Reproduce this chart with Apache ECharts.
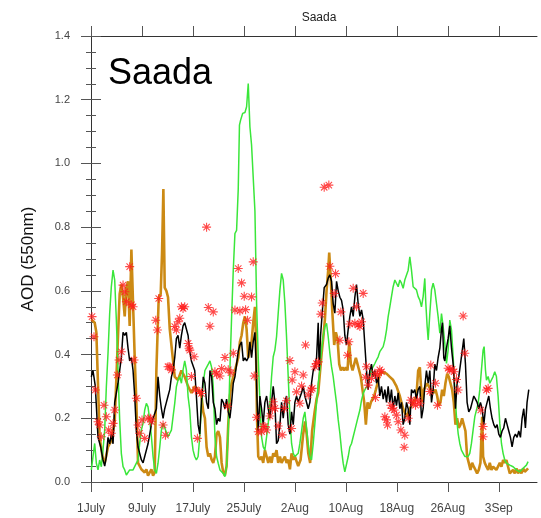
<!DOCTYPE html>
<html>
<head>
<meta charset="utf-8">
<script src="https://cdn.jsdelivr.net/npm/echarts@6/dist/echarts.min.js"></script>
<style>
html, body { margin: 0; padding: 0; background: #fff; }
#main { width: 541px; height: 518px; }
</style>
</head>
<body>
<div id="main"></div>
<script>
// days since 1 July
var dateTicks = [0, 8, 16, 24, 32, 40, 48, 56, 64];
var dateLabels = ['1July', '9July', '17July', '25July', '2Aug', '10Aug', '18Aug', '26Aug', '3Sep'];

var blackLine = [
  [0.05,0.33],[0.31,0.35],[0.68,0.30],[1.1,0.14],[1.52,0.11],[1.88,0.07],[2.15,0.05],[2.41,0.08],[2.67,0.14],[2.93,0.12],
  [3.19,0.15],[3.46,0.12],[3.72,0.25],[4.24,0.31],[4.5,0.35],[4.76,0.39],[5.03,0.47],[5.29,0.46],[5.55,0.47],[5.81,0.42],
  [6.07,0.38],[6.34,0.39],[6.6,0.35],[6.86,0.27],[7.12,0.16],[7.38,0.11],[7.9,0.07],[8.17,0.06],[8.43,0.08],[8.95,0.12],
  [9.48,0.18],[9.74,0.2],[10.0,0.2],[10.26,0.23],[10.52,0.33],[10.79,0.27],[11.05,0.23],[11.31,0.2],[11.57,0.23],[11.83,0.25],
  [12.09,0.27],[12.36,0.29],[12.62,0.33],[12.88,0.35],[13.14,0.39],[13.4,0.45],[13.66,0.46],[13.93,0.42],[14.19,0.46],[14.45,0.49],
  [14.71,0.5],[14.97,0.5],[15.24,0.46],[15.5,0.41],[15.76,0.38],[16.28,0.35],[16.54,0.27],[16.81,0.18],[17.07,0.15],[17.33,0.25],
  [17.62,0.33],[17.88,0.31],[18.14,0.25],[18.41,0.23],[18.67,0.35],[18.93,0.33],[19.19,0.25],[19.45,0.23],[19.71,0.18],[19.97,0.2],
  [20.24,0.19],[20.5,0.26],[20.76,0.25],[21.02,0.23],[21.28,0.26],[21.54,0.22],[21.8,0.2],[22.07,0.25],[22.33,0.31],[22.59,0.33],
  [22.85,0.37],[23.11,0.41],[23.37,0.43],[23.63,0.44],[23.9,0.38],[24.16,0.39],[24.42,0.38],[24.68,0.39],[24.94,0.44],[25.2,0.39],
  [25.46,0.44],[25.73,0.47],[25.88,0.39],[26.04,0.27],[26.25,0.16],[26.51,0.27],[26.77,0.23],[27.03,0.18],[27.29,0.25],[27.56,0.27],
  [27.82,0.23],[28.08,0.2],[28.34,0.25],[28.6,0.3],[28.86,0.25],[29.12,0.12],[29.38,0.13],[29.65,0.18],[29.91,0.25],[30.17,0.2],
  [30.43,0.25],[30.69,0.27],[30.95,0.18],[31.22,0.15],[31.48,0.22],[31.74,0.18],[32.0,0.25],[32.26,0.27],[32.52,0.25],[33.05,0.28],
  [33.31,0.3],[33.57,0.27],[33.83,0.27],[34.09,0.23],[34.35,0.25],[34.61,0.31],[34.88,0.35],[35.14,0.36],[35.4,0.39],[35.66,0.5],
  [35.82,0.35],[36.03,0.46],[36.29,0.53],[36.6,0.61],[36.97,0.62],[37.23,0.64],[37.49,0.65],[37.75,0.63],[38.01,0.56],[38.27,0.53],
  [38.54,0.63],[38.8,0.6],[39.06,0.58],[39.32,0.57],[39.58,0.54],[39.84,0.46],[40.1,0.43],[40.37,0.48],[40.63,0.52],[40.89,0.55],
  [41.15,0.52],[41.41,0.58],[41.67,0.62],[41.93,0.56],[42.2,0.52],[42.46,0.54],[42.72,0.51],[42.98,0.43],[43.24,0.35],[43.5,0.29],
  [43.76,0.35],[44.02,0.37],[44.29,0.33],[44.55,0.35],[44.81,0.31],[45.07,0.33],[45.33,0.27],[45.59,0.3],[45.86,0.26],[46.12,0.29],
  [46.38,0.25],[46.64,0.3],[46.9,0.25],[47.16,0.29],[47.42,0.23],[47.69,0.27],[47.95,0.24],[48.21,0.28],[48.47,0.23],[48.73,0.25],
  [48.99,0.18],[49.25,0.2],[49.52,0.25],[49.78,0.23],[50.04,0.18],[50.3,0.29],[50.56,0.28],[50.82,0.29],[51.08,0.26],[51.35,0.29],
  [51.61,0.3],[51.87,0.2],[52.13,0.23],[52.39,0.3],[52.65,0.35],[52.92,0.31],[53.18,0.35],[53.44,0.25],[53.7,0.29],[53.96,0.37],
  [54.22,0.35],[54.48,0.39],[54.75,0.42],[55.01,0.48],[55.16,0.5],[55.37,0.39],[55.53,0.38],[55.79,0.42],[56.05,0.45],[56.31,0.49],
  [56.58,0.42],[56.84,0.37],[56.99,0.32],[57.2,0.23],[57.46,0.31],[57.72,0.33],[57.99,0.37],[58.25,0.41],[58.51,0.45],[58.77,0.37],
  [59.03,0.25],[59.29,0.22],[59.56,0.23],[59.82,0.25],[60.08,0.27],[60.34,0.26],[60.6,0.25],[60.86,0.23],[61.12,0.25],[61.39,0.23],
  [61.65,0.18],[61.91,0.23],[62.17,0.25],[62.43,0.27],[62.69,0.23],[62.95,0.2],[63.22,0.18],[63.48,0.17],[63.74,0.18],[64.0,0.15],
  [64.26,0.14],[64.52,0.16],[64.78,0.17],[65.05,0.2],[65.31,0.18],[65.57,0.16],[65.83,0.14],[66.09,0.11],[66.35,0.14],[66.61,0.15],
  [66.88,0.14],[67.14,0.16],[67.4,0.14],[67.66,0.2],[67.92,0.23],[68.18,0.17],[68.44,0.25],[68.71,0.29]
];

var orangeLine = [
  [0.05,0.51],[0.58,0.5],[0.84,0.47],[1.36,0.14],[1.88,0.07],[2.15,0.06],[2.67,0.11],[3.19,0.13],[3.72,0.19],[4.24,0.46],
  [4.5,0.59],[4.76,0.62],[5.03,0.58],[5.29,0.52],[5.55,0.61],[5.81,0.63],[6.07,0.49],[6.34,0.73],[6.6,0.56],[6.86,0.39],
  [7.12,0.25],[7.38,0.06],[7.9,0.04],[8.43,0.03],[8.69,0.04],[8.95,0.02],[9.48,0.04],[9.74,0.02],[10.0,0.03],[10.26,0.35],
  [10.63,0.58],[10.94,0.59],[11.15,0.72],[11.36,0.92],[11.57,0.61],[11.83,0.6],[12.09,0.58],[12.36,0.48],[12.88,0.38],[13.14,0.33],
  [13.66,0.32],[14.19,0.35],[14.71,0.33],[15.24,0.3],[15.76,0.28],[16.28,0.3],[16.81,0.29],[17.33,0.27],[17.62,0.22],[17.88,0.2],
  [18.14,0.11],[18.41,0.08],[18.67,0.09],[18.93,0.07],[19.19,0.06],[19.45,0.08],[19.71,0.15],[19.97,0.16],[20.24,0.14],[20.5,0.06],
  [20.76,0.03],[21.02,0.02],[21.28,0.05],[21.54,0.18],[21.8,0.27],[22.07,0.31],[22.33,0.33],[22.59,0.35],[22.85,0.37],[23.11,0.39],
  [23.37,0.44],[23.63,0.46],[23.9,0.5],[24.16,0.52],[24.42,0.48],[24.68,0.39],[24.94,0.39],[25.2,0.44],[25.46,0.5],[25.73,0.55],
  [25.88,0.46],[26.04,0.21],[26.25,0.08],[26.51,0.07],[26.77,0.08],[27.03,0.06],[27.29,0.1],[27.56,0.08],[27.82,0.06],[28.08,0.08],
  [28.34,0.06],[28.6,0.09],[28.86,0.08],[29.12,0.1],[29.38,0.06],[29.65,0.08],[29.91,0.06],[30.43,0.08],[30.69,0.06],[30.95,0.07],
  [31.22,0.04],[31.48,0.09],[31.74,0.07],[32.0,0.08],[32.52,0.05],[32.9,0.07],[33.3,0.15],[33.6,0.19],[33.85,0.15],[34.1,0.09],
  [34.4,0.06],[34.7,0.16],[35.1,0.22],[35.4,0.26],[35.66,0.28],[35.92,0.34],[36.18,0.4],[36.44,0.45],[36.71,0.51],[36.97,0.6],
  [37.23,0.665],[37.39,0.72],[37.65,0.63],[37.86,0.54],[38.17,0.43],[38.43,0.47],[38.69,0.45],[38.96,0.37],[39.22,0.35],
  [39.48,0.36],[39.74,0.35],[40.0,0.36],[40.26,0.35],[40.52,0.44],[40.78,0.37],[41.05,0.35],[41.31,0.37],[41.57,0.39],[41.83,0.37],
  [42.09,0.35],[42.35,0.33],[42.61,0.29],[42.88,0.25],[43.14,0.18],[43.4,0.25],[43.66,0.23],[43.92,0.25],[44.18,0.26],[44.44,0.27],
  [44.71,0.29],[44.97,0.31],[45.33,0.34],[45.86,0.345],[46.38,0.34],[46.9,0.33],[47.42,0.32],[47.95,0.3],[48.47,0.27],[48.99,0.23],
  [49.52,0.205],[50.04,0.23],[50.56,0.25],[51.08,0.27],[51.35,0.35],[51.61,0.36],[51.76,0.31],[51.97,0.25],[52.24,0.29],[52.5,0.3],
  [52.76,0.31],[53.02,0.3],[53.28,0.29],[53.54,0.29],[53.8,0.28],[54.07,0.29],[54.33,0.27],[54.59,0.24],[54.85,0.25],[55.11,0.29],
  [55.37,0.27],[55.63,0.31],[55.9,0.34],[56.16,0.33],[56.42,0.31],[56.68,0.29],[56.94,0.25],[57.2,0.18],[57.46,0.2],[57.72,0.17],
  [57.99,0.18],[58.25,0.2],[58.51,0.2],[58.77,0.16],[59.03,0.08],[59.29,0.06],[59.56,0.038],[59.82,0.06],[60.08,0.048],[60.34,0.038],
  [60.6,0.027],[60.86,0.038],[61.12,0.06],[61.39,0.205],[61.54,0.08],[61.8,0.06],[62.07,0.048],[62.33,0.038],[62.59,0.06],[62.85,0.038],
  [63.11,0.048],[63.37,0.048],[63.63,0.038],[63.9,0.043],[64.16,0.06],[64.42,0.048],[64.68,0.069],[64.94,0.06],[65.2,0.069],[65.46,0.048],
  [65.73,0.027],[65.99,0.022],[66.25,0.038],[66.51,0.027],[66.77,0.043],[67.03,0.027],[67.29,0.038],[67.56,0.027],[67.82,0.043],[68.08,0.032],
  [68.34,0.038],[68.6,0.043]
];

var greenLine = [
  [0.05,0.038],[0.31,0.032],[0.58,0.121],[0.84,0.059],[1.1,0.038],[1.36,0.069],[1.62,0.048],[1.88,0.1],[2.15,0.163],[2.41,0.3],
  [2.67,0.404],[2.93,0.529],[3.19,0.613],[3.46,0.665],[3.72,0.634],[3.98,0.508],[4.24,0.352],[4.5,0.195],[4.76,0.09],[5.03,0.048],
  [5.29,0.038],[5.55,0.022],[6.07,0.038],[6.6,0.038],[7.12,0.059],[7.38,0.069],[7.64,0.121],[7.9,0.163],[8.17,0.184],[8.43,0.226],
  [8.69,0.247],[8.95,0.236],[9.21,0.195],[9.48,0.142],[9.74,0.08],[10.0,0.038],[10.26,0.027],[10.52,0.059],[10.79,0.11],[11.05,0.163],
  [11.31,0.184],[11.57,0.184],[12.09,0.142],[12.62,0.163],[12.88,0.205],[13.14,0.247],[13.4,0.299],[13.66,0.32],[13.93,0.331],[14.19,0.31],
  [14.45,0.352],[14.71,0.38],[14.97,0.352],[15.24,0.268],[15.5,0.226],[15.76,0.142],[16.02,0.1],[16.28,0.08],[16.54,0.069],[16.81,0.08],
  [17.07,0.142],[17.36,0.25],[17.62,0.31],[17.88,0.35],[18.14,0.36],[18.41,0.37],[18.67,0.38],[18.93,0.36],[19.19,0.3],[19.45,0.142],
  [19.71,0.08],[19.97,0.059],[20.24,0.038],[20.5,0.032],[20.76,0.027],[21.02,0.017],[21.28,0.048],[21.54,0.163],[21.8,0.352],[22.07,0.519],
  [22.33,0.665],[22.59,0.78],[22.85,0.79],[23.11,0.92],[23.3,1.12],[23.48,1.136],[23.8,1.157],[24.16,1.16],[24.42,1.178],[24.68,1.251],
  [24.94,1.115],[25.2,1.058],[25.46,1.052],[25.73,0.85],[25.99,0.56],[26.25,0.39],[26.51,0.247],[26.77,0.142],[27.03,0.11],[27.29,0.1],
  [27.56,0.142],[27.82,0.184],[28.08,0.247],[28.34,0.331],[28.6,0.393],[28.86,0.414],[29.12,0.456],[29.38,0.529],[29.65,0.603],[29.91,0.655],
  [30.17,0.634],[30.43,0.561],[30.69,0.456],[30.95,0.331],[31.22,0.205],[31.48,0.121],[31.74,0.09],[32.0,0.08],[32.26,0.08],[32.52,0.09],
  [32.78,0.121],[33.05,0.16],[33.31,0.2],[33.57,0.22],[34.09,0.12],[34.35,0.08],[34.61,0.069],[34.88,0.121],[35.14,0.184],[35.4,0.247],
  [35.66,0.31],[35.92,0.352],[36.18,0.414],[36.44,0.456],[36.71,0.488],[36.97,0.498],[37.23,0.456],[37.49,0.404],[37.75,0.362],[38.01,0.331],
  [38.27,0.289],[38.54,0.247],[38.8,0.195],[39.06,0.153],[39.32,0.1],[39.58,0.059],[39.84,0.032],[40.1,0.038],[40.37,0.08],[40.63,0.11],
  [40.89,0.121],[41.15,0.142],[41.41,0.163],[41.67,0.184],[41.93,0.205],[42.2,0.226],[42.46,0.257],[42.72,0.278],[42.98,0.289],[43.24,0.299],
  [43.5,0.31],[43.76,0.331],[44.02,0.352],[44.29,0.362],[44.55,0.372],[44.81,0.383],[45.07,0.393],[45.33,0.409],[45.59,0.414],[45.86,0.425],
  [46.12,0.446],[46.38,0.477],[46.64,0.519],[46.9,0.55],[47.16,0.582],[47.42,0.613],[47.69,0.634],[47.95,0.634],[48.21,0.613],[48.47,0.634],
  [48.73,0.624],[48.99,0.608],[49.25,0.634],[49.52,0.639],[49.78,0.665],[50.04,0.707],[50.3,0.665],[50.56,0.613],[50.82,0.61],[51.08,0.603],
  [51.35,0.582],[51.61,0.571],[51.87,0.55],[52.13,0.582],[52.39,0.639],[52.55,0.561],[52.76,0.488],[52.92,0.446],[53.18,0.529],[53.44,0.603],
  [53.7,0.624],[53.96,0.603],[54.22,0.561],[54.48,0.519],[54.75,0.467],[55.01,0.529],[55.27,0.488],[55.53,0.435],[55.79,0.372],[56.05,0.414],
  [56.31,0.508],[56.58,0.477],[56.84,0.393],[57.1,0.289],[57.36,0.205],[57.62,0.153],[57.88,0.121],[58.14,0.1],[58.41,0.09],[58.67,0.08],
  [59.19,0.08],[59.45,0.09],[59.71,0.121],[59.97,0.163],[60.24,0.205],[60.5,0.226],[60.76,0.247],[61.02,0.289],[61.28,0.352],[61.54,0.414],
  [61.7,0.425],[61.91,0.352],[62.07,0.32],[62.33,0.331],[62.59,0.31],[62.85,0.31],[63.11,0.331],[63.37,0.346],[63.63,0.331],[63.9,0.268],
  [64.16,0.184],[64.42,0.121],[64.68,0.09],[64.94,0.069],[65.2,0.059],[65.73,0.053],[66.25,0.048],[66.77,0.038],[67.29,0.032],[67.82,0.043],
  [68.34,0.053],[68.6,0.064]
];

var observed = [
  [0.16,0.519],[0.47,0.456],[0.68,0.289],[1.1,0.189],[1.36,0.179],[1.62,0.142],[2.04,0.241],[2.41,0.205],[2.77,0.163],[3.19,0.153],
  [3.46,0.184],[3.72,0.226],[4.14,0.336],[4.4,0.383],[4.76,0.409],[5.03,0.618],[5.29,0.597],[5.55,0.566],[6.07,0.676],[6.34,0.556],
  [6.6,0.55],[6.75,0.383],[7.12,0.263],[7.38,0.179],[7.64,0.153],[8.01,0.195],[8.43,0.137],[8.95,0.2],[9.37,0.2],[9.48,0.189],
  [10.16,0.508],[10.42,0.477],[10.63,0.576],[11.31,0.179],[11.68,0.147],[12.09,0.362],[12.36,0.362],[12.62,0.352],[13.14,0.488],[13.4,0.477],
  [13.66,0.503],[13.93,0.514],[14.19,0.55],[14.45,0.545],[14.71,0.55],[15.24,0.435],[15.39,0.42],[15.5,0.414],[15.76,0.331],[16.18,0.393],
  [16.39,0.289],[16.7,0.137],[17.07,0.284],[17.33,0.278],[18.14,0.8],[18.41,0.548],[19.19,0.534],[18.67,0.489],[19.45,0.346],[19.71,0.339],
  [20.24,0.333],[20.5,0.356],[21.02,0.391],[21.54,0.352],[21.96,0.343],[22.33,0.404],[21.44,0.238],[22.59,0.54],[23.11,0.67],[23.63,0.625],
  [24.05,0.583],[23.37,0.537],[24.26,0.541],[24.57,0.508],[25.2,0.581],[25.46,0.691],[25.62,0.333],[25.99,0.203],[26.25,0.158],[26.77,0.158],
  [27.03,0.174],[27.29,0.174],[27.56,0.163],[28.08,0.207],[28.44,0.231],[28.6,0.252],[28.86,0.231],[29.38,0.176],[30.01,0.148],[30.33,0.231],
  [30.69,0.255],[31.22,0.381],[31.48,0.168],[31.58,0.32],[32.0,0.346],[32.26,0.283],[32.78,0.247],[33.05,0.301],[33.31,0.336],[33.67,0.43],
  [36.6,0.925],[37.33,0.932],[34.09,0.273],[34.51,0.289],[34.72,0.294],[35.14,0.362],[35.4,0.372],[35.66,0.377],[36.08,0.527],[36.29,0.562],
  [37.49,0.677],[38.38,0.654],[38.17,0.592],[39.22,0.534],[39.06,0.445],[40.26,0.398],[40.47,0.44],[40.63,0.496],[41.15,0.608],[41.67,0.55],
  [41.41,0.498],[41.93,0.493],[42.2,0.488],[42.46,0.503],[42.72,0.592],[43.24,0.362],[43.08,0.329],[43.5,0.304],[44.02,0.325],[44.55,0.341],
  [44.97,0.336],[45.33,0.352],[45.59,0.346],[44.65,0.265],[46.12,0.205],[46.38,0.195],[46.54,0.179],[47.06,0.241],[47.27,0.231],[47.58,0.226],
  [47.95,0.21],[48.21,0.189],[48.63,0.163],[49.25,0.147],[49.15,0.109],[49.78,0.2],[50.2,0.257],[50.56,0.247],[50.93,0.241],[51.24,0.257],
  [51.61,0.247],[53.33,0.367],[54.07,0.31],[53.18,0.284],[54.38,0.241],[56.05,0.357],[56.31,0.352],[56.68,0.354],[56.99,0.346],[57.36,0.322],
  [57.62,0.289],[58.41,0.521],[58.67,0.404],[61.18,0.226],[61.54,0.174],[61.54,0.142],[62.07,0.289],[62.33,0.294]
];

// eight-armed asterisk marker
var asterisk = 'path://M0,8.8L20,8.8L20,11.2L0,11.2Z' +
  'M8.8,0L11.2,0L11.2,20L8.8,20Z' +
  'M3.78,2.08L17.92,16.22L16.22,17.92L2.08,3.78Z' +
  'M17.92,3.78L3.78,17.92L2.08,16.22L16.22,2.08Z';

var font = "'Liberation Sans', Arial, Helvetica, sans-serif";
var frameColor = '#333';
var tickColor = '#555';

function yAxisBase(pos, showLabel) {
  return {
    type: 'value', position: pos, min: 0, max: 1.4, interval: 0.2,
    axisLine: { show: true, lineStyle: { color: frameColor, width: 1 } },
    axisTick: { show: true, inside: false, length: 10, lineStyle: { color: tickColor } },
    minorTick: { show: true, splitNumber: 4, length: 5, lineStyle: { color: tickColor } },
    splitLine: { show: false },
    minorSplitLine: { show: false },
    axisLabel: {
      show: showLabel, color: '#444', fontSize: 11, fontFamily: font, margin: 21,
      formatter: function (v) { return v.toFixed(1); }
    }
  };
}

var yLeft = yAxisBase('left', true);
yLeft.name = 'AOD (550nm)';
yLeft.nameLocation = 'middle';
yLeft.nameGap = 54;
yLeft.nameTextStyle = { fontSize: 17, color: '#111', fontFamily: font };

var chart = echarts.init(document.getElementById('main'), null, { renderer: 'canvas' });
chart.setOption({
  animation: false,
  backgroundColor: '#fff',
  title: [{
    text: 'Saada', left: 314, top: 7, textAlign: 'center',
    textStyle: { fontSize: 12, fontWeight: 'normal', color: '#222', fontFamily: font }
  }, {
    text: 'Saada', left: 103, top: 51,
    textStyle: { fontSize: 36, fontWeight: 'normal', color: '#000', fontFamily: font }
  }],
  grid: { left: 91, right: 4, top: 36, bottom: 36, containLabel: false },
  xAxis: [{
    type: 'value', position: 'bottom', min: 0, max: 70,
    axisLine: { show: true, onZero: false, lineStyle: { color: frameColor, width: 1 } },
    axisTick: { show: true, inside: false, length: 10, customValues: dateTicks, lineStyle: { color: tickColor } },
    splitLine: { show: false },
    axisLabel: {
      color: '#444', fontSize: 12, fontFamily: font, margin: 21, customValues: dateTicks,
      formatter: function (v) {
        var i = dateTicks.indexOf(Math.round(v));
        return i >= 0 ? dateLabels[i] : '';
      }
    }
  }, {
    type: 'value', position: 'top', min: 0, max: 70,
    axisLine: { show: true, onZero: false, lineStyle: { color: frameColor, width: 1 } },
    axisTick: { show: true, inside: false, length: 10, customValues: dateTicks, lineStyle: { color: tickColor } },
    splitLine: { show: false },
    axisLabel: { show: false }
  }],
  yAxis: [yLeft, yAxisBase('right', false)],
  series: [{
    name: 'orange', type: 'line', data: orangeLine, showSymbol: false,
    lineStyle: { color: '#cc8a14', width: 2.6 }, z: 2
  }, {
    name: 'green', type: 'line', data: greenLine, showSymbol: false,
    lineStyle: { color: '#3ae63a', width: 1.5 }, z: 3
  }, {
    name: 'black', type: 'line', data: blackLine, showSymbol: false,
    lineStyle: { color: '#000', width: 1.5 }, z: 4
  }, {
    name: 'obs', type: 'scatter', data: observed, symbol: asterisk, symbolSize: 9,
    itemStyle: { color: '#ff1c1c' }, z: 5
  }]
});
</script>
</body>
</html>
